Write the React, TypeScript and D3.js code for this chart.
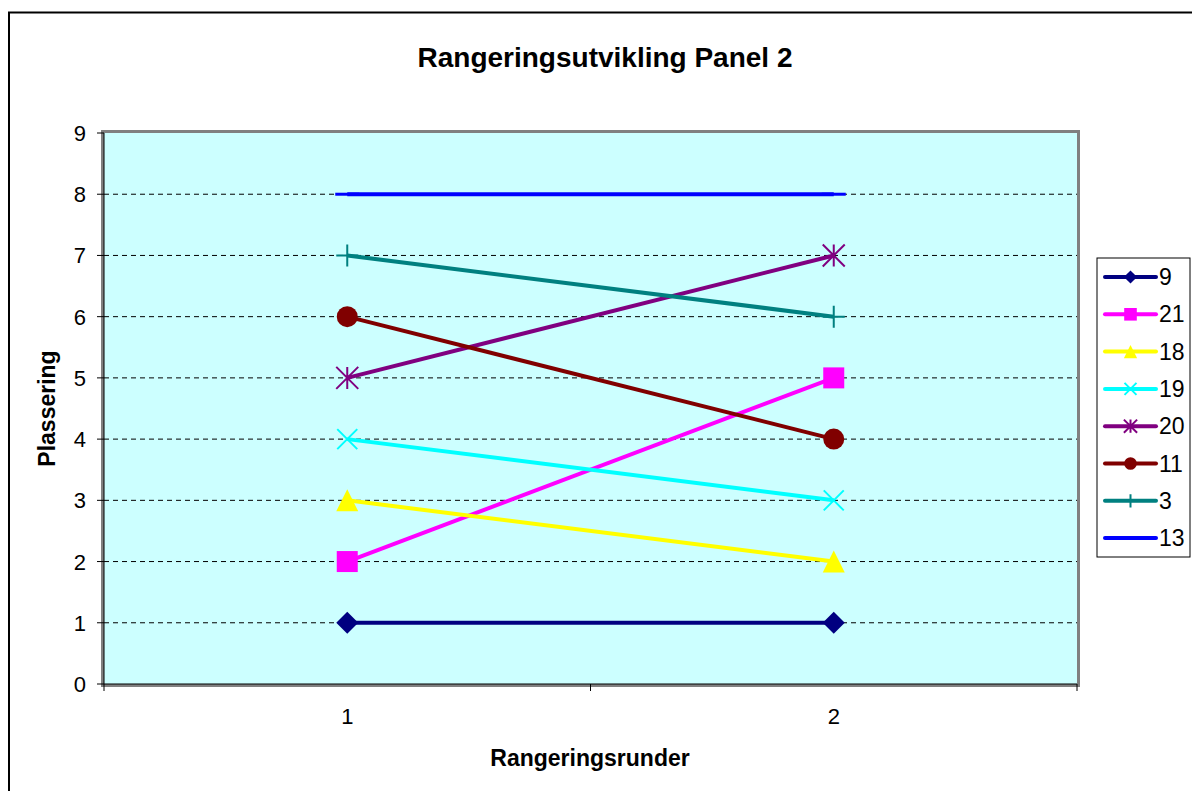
import React from "react";
import * as d3 from "d3";

const categories = ["1", "2"];
const seriesNames = ["9", "21", "18", "19", "20", "11", "3", "13"];
const seriesColors = ["#000080", "#FF00FF", "#FFFF00", "#00FFFF", "#800080", "#800000", "#008080", "#0000FF"];
const seriesMarkers = ["diamond", "square", "triangle", "x", "star", "circle", "plus", "dash"];
const values9 = [1, 1];
const values21 = [2, 5];
const values18 = [3, 2];
const values19 = [4, 3];
const values20 = [5, 7];
const values11 = [6, 4];
const values3 = [7, 6];
const values13 = [8, 8];
const seriesValues = [values9, values21, values18, values19, values20, values11, values3, values13];
const yTicks = [0, 1, 2, 3, 4, 5, 6, 7, 8, 9];

const W = 1192, H = 791;
const L = 104, R = 1077, T = 133, B = 684;
const FONT = "Liberation Sans, Arial, sans-serif";

function Marker({ type, x, y, color, legend }: { type: string; x: number; y: number; color: string; legend?: boolean }) {
  const s = legend ? 0.6 : 1;
  switch (type) {
    case "diamond": {
      const r = 11 * s;
      return <path d={`M${x},${y - r}L${x + r},${y}L${x},${y + r}L${x - r},${y}Z`} fill={color} />;
    }
    case "square": {
      const r = 10.5 * s;
      return <rect x={x - r} y={y - r} width={2 * r} height={2 * r} fill={color} />;
    }
    case "triangle": {
      const r = 11 * s;
      return <path d={`M${x},${y - r}L${x + r},${y + r}L${x - r},${y + r}Z`} fill={color} />;
    }
    case "x": {
      const r = 10 * s;
      return <path d={`M${x - r},${y - r}L${x + r},${y + r}M${x - r},${y + r}L${x + r},${y - r}`} stroke={color} strokeWidth={2} />;
    }
    case "star": {
      const r = 11 * s;
      return (
        <path
          d={`M${x - r},${y - r}L${x + r},${y + r}M${x - r},${y + r}L${x + r},${y - r}M${x},${y - r}L${x},${y + r}`}
          stroke={color}
          strokeWidth={2}
        />
      );
    }
    case "circle":
      return <circle cx={x} cy={y} r={10.5 * s} fill={color} />;
    case "plus": {
      const r = 11 * s;
      return <path d={`M${x - r},${y}L${x + r},${y}M${x},${y - r}L${x},${y + r}`} stroke={color} strokeWidth={2} />;
    }
    case "dash": {
      const r = 12 * s;
      return <path d={`M${x - r},${y}L${x + r},${y}`} stroke={color} strokeWidth={3} />;
    }
  }
  return null;
}

export default function App() {
  const x = d3.scaleBand<string>().domain(categories).range([L, R]);
  const y = d3.scaleLinear().domain([0, 9]).range([B, T]);
  const cx = (c: string) => (x(c) as number) + x.bandwidth() / 2;
  const line = d3
    .line<number>()
    .x((_, i) => cx(categories[i]))
    .y((v) => y(v));

  const legendX = 1097, legendY = 258, legendW = 93, legendH = 299;
  const legendStep = 37.3;

  return (
    <svg width={W} height={H} style={{ position: "absolute", left: 0, top: 0, background: "#fff" }} fontFamily={FONT}>
      <rect x={0} y={0} width={W} height={H} fill="#fff" />
      <rect x={9} y={12.5} width={W + 10} height={H + 10} fill="none" stroke="#000" strokeWidth={2} />
      <text x={605} y={67} textAnchor="middle" fontSize={28} fontWeight="bold">
        Rangeringsutvikling Panel 2
      </text>

      {/* plot area */}
      <rect x={L} y={T} width={R - L} height={B - T} fill="#CCFFFF" />
      <rect x={L - 1} y={B + 1} width={R - L + 3} height={2} fill="#d0d0d0" />
      <rect x={L - 1.5} y={T - 1.5} width={R - L + 3} height={B - T + 3} fill="none" stroke="#808080" strokeWidth={3} />

      {/* grid */}
      {yTicks.slice(1, -1).map((t) => (
        <line key={t} x1={L} x2={R} y1={y(t)} y2={y(t)} stroke="#000" strokeWidth={1} strokeDasharray="5,4" />
      ))}

      {/* axes */}
      <line x1={L} x2={L} y1={T} y2={B} stroke="#000" />
      <line x1={L} x2={R} y1={B} y2={B} stroke="#000" />
      {yTicks.map((t) => (
        <g key={t}>
          <line x1={L - 7} x2={L} y1={y(t)} y2={y(t)} stroke="#000" />
          <text x={L - 18} y={y(t) + 8} textAnchor="end" fontSize={22}>
            {t}
          </text>
        </g>
      ))}
      {[L, ...categories.map((c) => (x(c) as number) + x.bandwidth())].map((v, i) => (
        <line key={i} x1={v} x2={v} y1={B} y2={B + 7} stroke="#000" />
      ))}
      {categories.map((c) => (
        <text key={c} x={cx(c)} y={724} textAnchor="middle" fontSize={22}>
          {c}
        </text>
      ))}
      <text x={590} y={766} textAnchor="middle" fontSize={23} fontWeight="bold">
        Rangeringsrunder
      </text>
      <text transform={`translate(55,${(T + B) / 2}) rotate(-90)`} textAnchor="middle" fontSize={23} fontWeight="bold">
        Plassering
      </text>

      {/* series */}
      {seriesValues.map((vals, si) => (
        <g key={si}>
          <path d={line(vals) || ""} fill="none" stroke={seriesColors[si]} strokeWidth={4} />
          {vals.map((v, i) => (
            <Marker key={i} type={seriesMarkers[si]} x={cx(categories[i])} y={y(v)} color={seriesColors[si]} />
          ))}
        </g>
      ))}

      {/* legend */}
      <rect x={legendX} y={legendY} width={legendW} height={legendH} fill="#fff" stroke="#000" strokeWidth={1} />
      {seriesNames.map((n, i) => {
        const ly = legendY + 19 + i * legendStep;
        return (
          <g key={n}>
            <line x1={1105} x2={1156} y1={ly} y2={ly} stroke={seriesColors[i]} strokeWidth={4} strokeLinecap="round" />
            <Marker type={seriesMarkers[i]} x={1130.5} y={ly} color={seriesColors[i]} legend />
            <text x={1159} y={ly + 8} fontSize={23}>
              {n}
            </text>
          </g>
        );
      })}
    </svg>
  );
}
